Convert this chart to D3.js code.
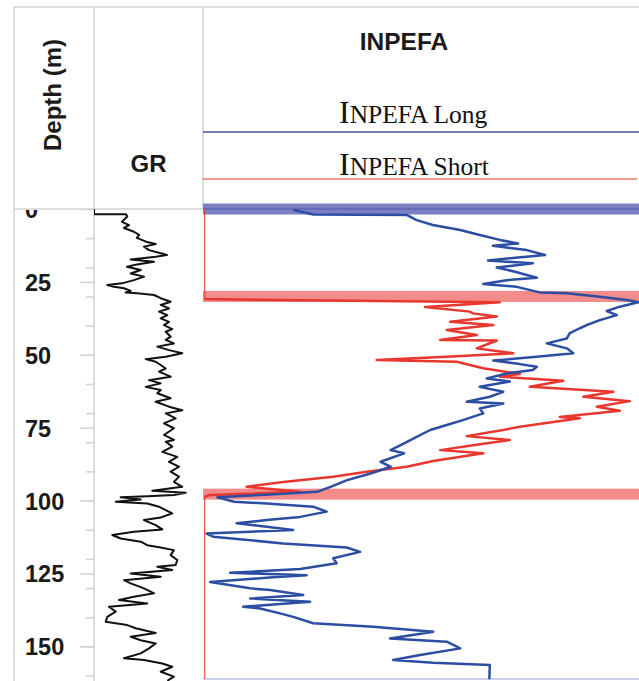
<!DOCTYPE html>
<html><head><meta charset="utf-8">
<script src="https://cdn.jsdelivr.net/npm/d3@7"></script>
<style>body{margin:0;background:#fff}</style>
</head><body><svg id="c" width="639" height="681"></svg>
<script>
// ---------- data ----------
const depthLabels = [0,25,50,75,100,125,150];
const depthMinor = [0,10,20,30,40,50,60,70,80,90,100,110,120,130,140,150,160];

const grDepth = [0,1.8,1.8,2.6,4.4,5.5,6.5,7.8,8.9,9.9,11.2,12.0,12.9,14.1,15.2,15.8,16.4,17.3,18.1,19.0,19.8,20.9,22.1,23.2,24.4,25.5,26.1,26.7,27.2,28.1,28.6,28.9,29.5,30.6,31.8,32.9,34.1,35.2,36.4,37.5,38.7,39.8,41.2,42.1,43.8,44.9,46.1,47.2,48.4,49.5,50.7,51.5,52.4,53.5,54.7,55.8,57.5,58.7,59.8,61.0,62.1,63.2,64.9,66.1,67.8,69.0,70.1,71.8,73.5,75.2,77.5,79.2,79.8,81.5,83.3,85.0,86.7,88.4,90.1,91.8,93.6,95.3,96.6,97.3,98.1,98.5,98.9,99.6,100.4,101.0,102.1,103.3,104.4,105.8,106.7,108.4,109.9,110.7,111.8,113.0,114.1,115.3,116.1,117.0,118.7,120.4,122.1,122.7,123.8,125.0,126.1,127.3,128.4,130.1,131.8,133.0,134.1,135.3,136.4,138.1,139.9,141.6,142.7,143.8,145.4,146.7,147.9,149.0,150.7,152.4,154.1,154.7,155.9,157.0,158.7,160.4,161.8];
const grValue = [0,0,44,45.8,38.5,48.2,41.3,55,62,59,71.6,84.9,68.8,75.7,91.8,100.4,84.9,50.5,82.6,59.2,45.4,64.3,50.5,68.8,55,38.5,18.3,27.5,41.3,50.5,43.6,59.6,82.6,91.8,105.5,91.8,103.2,89.4,100.9,91.8,103.2,96.3,107.7,98.7,105.5,98.7,110,87.1,103.2,121.5,98.7,71.1,84.9,91.8,98.7,89.4,105.5,75.7,91.8,71.1,91.8,87.1,105.5,84.9,103.2,121.5,98.7,112.4,96.3,110,96.3,110,98.7,107.7,94,114.6,103.2,117,105.5,117,110,121.5,80.2,126.2,110,73.3,36.7,64.3,29.9,73.3,89.4,98.7,107.7,91.8,68.8,84.9,94,55,25.2,36.7,64.3,73.3,91.8,110,105.5,114.6,112.4,87.1,107.7,50.5,91.8,41.3,50.5,68.8,82.6,55,34.4,73.3,20.6,29.9,18.3,16.1,45.8,57.4,84.9,50.5,64.3,84.9,75.7,64.3,41.3,68.8,94,107.7,91.8,110,100.9];

const longDepth = [0.3,1.9,2.1,3.8,5.5,7.2,8.9,10.6,11.8,12.6,14.1,15.8,16.9,17.7,18.6,20.1,21.5,23.6,24.4,25.7,26.7,28.6,28.9,30.1,31.2,32.0,33.5,35.0,36.4,38.1,39.8,40.9,42.6,44.4,46.1,47.8,49.5,50.7,52.0,53.2,54.1,55.2,56.4,58.1,59.2,61.0,62.7,64.4,66.1,66.7,68.4,70.1,72.4,74.1,75.8,78.1,80.4,82.7,83.8,86.7,88.4,90.7,93.0,95.3,97.0,97.9,98.9,100.4,101.0,102.1,103.8,105.6,106.7,107.8,109.0,110.1,111.3,112.4,114.7,116.1,117.6,119.8,121.5,123.5,124.8,125.6,126.3,127.9,130.1,130.7,132.4,133.6,134.7,136.4,137.0,138.7,139.9,142.1,143.3,145.0,147.3,148.4,150.7,153.0,154.7,155.6,156.4,161.3];
const longValue = [20.5,25.1,46.7,48.9,52.6,58.9,63.4,68.0,72.2,66.4,74.2,78.4,70.3,65.3,75.6,67.3,71.5,76.5,69.6,64.2,71.9,77.2,83.4,91.0,97.2,99.8,95.6,92.6,94.9,91.0,88.0,86.4,84.1,83.4,78.8,83.4,84.9,76.5,66.5,72.6,76.5,75.6,69.6,65.0,70.3,63.4,68.8,65.7,60.4,68.8,63.4,64.2,59.5,55.8,52.0,49.0,46.0,42.9,46.0,40.6,42.9,38.3,32.9,29.1,26.0,15.3,3.1,6.9,14.4,25.1,28.2,22.1,14.4,7.5,14.4,20.5,0.6,2.1,18.2,32.8,35.9,29.7,30.5,22.1,6.0,23.6,15.9,1.4,10.6,15.2,22.8,10.6,24.4,9.0,12.9,17.5,20.5,25.1,38.9,52.7,42.8,55.8,58.9,49.7,43.5,52.7,65.7,65.6];

const shortDepth = [0,30.9,32.0,33.6,35.2,35.8,36.9,38.7,39.8,41.5,43.2,44.9,45.1,47.8,49.5,50.7,51.8,52.4,54.6,56.6,57.5,58.9,61.0,62.7,64.4,65.9,67.8,69.2,71.3,71.8,74.7,75.8,77.9,79.2,81.0,82.7,83.8,86.4,88.4,90.1,91.8,93.6,95.3,97.0,98.1,98.8,161.2];
const shortValue = [0,0,68.0,50.8,61.1,61.8,67.3,56.6,66.5,55.8,62.7,54.3,67.3,62.7,71.1,55.8,39.7,58.1,64.2,72.6,68.0,82.6,74.9,94.1,87.2,97.9,90.3,95.6,81.8,86.4,72.6,68.8,60.4,70.3,61.9,54.3,64.2,52.7,46.6,37.4,29.7,18.2,9.8,22.1,1.4,0,0];

const surfaceDepth = [0, 30.0, 97.8];
const surfaceType = ["long", "short", "short"];

const legendNames = ["INPEFA Long", "INPEFA Short"];
const titles = ["Depth (m)", "GR", "INPEFA"];

// ---------- layout ----------
const svg = d3.select("#c");
const plotTop = 209, plotBottom = 679;
const y = d3.scaleLinear().domain([0, 161.2]).range([plotTop, plotBottom]);
const xGR = d3.scaleLinear().domain([0, 150]).range([94, 203]);
const xIN = d3.scaleLinear().domain([0, 100]).range([204, 639]);
const sans = "'Liberation Sans', Arial, sans-serif";
const serif = "'Liberation Serif', 'Times New Roman', serif";
const gridCol = "#d2d2d2";
const colLong = "#2b4ea3", colShort = "#e8372f";

const defs = svg.append("defs");
defs.append("clipPath").attr("id","clipGR").append("rect").attr("x",94).attr("y",plotTop).attr("width",109).attr("height",681-plotTop);
defs.append("clipPath").attr("id","clipIN").append("rect").attr("x",204.2).attr("y",plotTop-6).attr("width",436).attr("height",681-plotTop+6);
defs.append("clipPath").attr("id","clipAx").append("rect").attr("x",0).attr("y",plotTop+1).attr("width",94).attr("height",681-plotTop);

// frame lines
const frame = svg.append("g").attr("stroke", gridCol).attr("stroke-width", 1.5);
frame.append("line").attr("x1",14).attr("x2",639).attr("y1",7).attr("y2",7);
frame.append("line").attr("x1",14).attr("x2",14).attr("y1",7).attr("y2",681);
frame.append("line").attr("x1",94).attr("x2",94).attr("y1",7).attr("y2",681);
frame.append("line").attr("x1",203).attr("x2",203).attr("y1",7).attr("y2",plotTop);
frame.append("line").attr("x1",14).attr("x2",203).attr("y1",plotTop).attr("y2",plotTop);
svg.append("line").attr("x1",203).attr("x2",639).attr("y1",plotBottom).attr("y2",plotBottom)
  .attr("stroke","#b7bfe6").attr("stroke-width",1.5);

// depth axis
const axMinor = svg.append("g").attr("transform","translate(94,0)")
  .call(d3.axisLeft(y).tickValues(depthMinor).tickSize(8).tickFormat(""));
axMinor.select(".domain").remove();
axMinor.selectAll("line").attr("stroke", gridCol).attr("stroke-width",1.5);

const axMajor = svg.append("g").attr("clip-path","url(#clipAx)")
  .append("g").attr("transform","translate(94,0)")
  .call(d3.axisLeft(y).tickValues(depthLabels).tickSize(14).tickFormat(d3.format("d")));
axMajor.select(".domain").remove();
axMajor.selectAll("line").attr("stroke", gridCol).attr("stroke-width",1.5);
axMajor.selectAll("text").attr("x", -69).attr("text-anchor","start").attr("dy","0.36em")
  .attr("fill","#1a1a1a").style("font-family", sans).style("font-weight","bold").style("font-size","23.5px");

// titles
svg.append("text").attr("transform","translate(53,95) rotate(-90)").attr("text-anchor","middle").attr("dy","0.35em")
  .style("font-family",sans).style("font-weight","bold").style("font-size","24px").attr("fill","#1a1a1a").text(titles[0]);
svg.append("text").attr("x",148.5).attr("y",172).attr("text-anchor","middle")
  .style("font-family",sans).style("font-weight","bold").style("font-size","24px").attr("fill","#1a1a1a").text(titles[1]);
svg.append("text").attr("x",404).attr("y",50).attr("text-anchor","middle")
  .style("font-family",sans).style("font-weight","bold").style("font-size","24.5px").attr("fill","#1a1a1a").text(titles[2]);

// legend
const legY = [123, 175], legLineY = [132, 179], legCol = ["#4655ad", "#f0776a"];
legendNames.forEach((name, i) => {
  const t = svg.append("text").attr("x",339).attr("y",legY[i]).style("font-family",serif).attr("fill","#111");
  t.append("tspan").style("font-size","32px").text(name.charAt(0));
  t.append("tspan").style("font-size","25.5px").text(name.slice(1));
  svg.append("line").attr("x1",203).attr("x2",i===0?639:637).attr("y1",legLineY[i]).attr("y2",legLineY[i])
    .attr("stroke",legCol[i]).attr("stroke-width",1.6);
});

// surfaces (bands)
svg.append("g").selectAll("rect").data(surfaceDepth.map((d,i)=>({d, t:surfaceType[i]}))).join("rect")
  .attr("x",203).attr("width",436)
  .attr("y", s => y(s.d) - 5.5).attr("height", 11)
  .attr("fill", s => s.t === "long" ? "#7479bf" : "#f28585")
  .attr("opacity", 0.95);
svg.append("g").selectAll("line").data(surfaceDepth.filter((d,i)=>surfaceType[i]==="long")).join("line")
  .attr("x1",203).attr("x2",639).attr("y1",d=>y(d)).attr("y2",d=>y(d))
  .attr("stroke","#5f64b3").attr("stroke-width",1.5);

// curves
const gr = grDepth.map((d,i)=>({d, v:grValue[i]}));
const lng = longDepth.map((d,i)=>({d, v:longValue[i]}));
const sht = shortDepth.map((d,i)=>({d, v:shortValue[i]}));

svg.append("path").datum(gr).attr("clip-path","url(#clipGR)")
  .attr("d", d3.line().x(p=>xGR(p.v)).y(p=>y(p.d)))
  .attr("fill","none").attr("stroke","#111").attr("stroke-width",2).attr("stroke-linejoin","round");

svg.append("path").datum(sht).attr("clip-path","url(#clipIN)")
  .attr("d", d3.line().x(p=>xIN(p.v)).y(p=>y(p.d)))
  .attr("fill","none").attr("stroke",colShort).attr("stroke-width",2.5).attr("stroke-linejoin","round");

svg.append("path").datum(lng).attr("clip-path","url(#clipIN)")
  .attr("d", d3.line().x(p=>xIN(p.v)).y(p=>y(p.d)))
  .attr("fill","none").attr("stroke",colLong).attr("stroke-width",2.5).attr("stroke-linejoin","round");
</script>
</body></html>
